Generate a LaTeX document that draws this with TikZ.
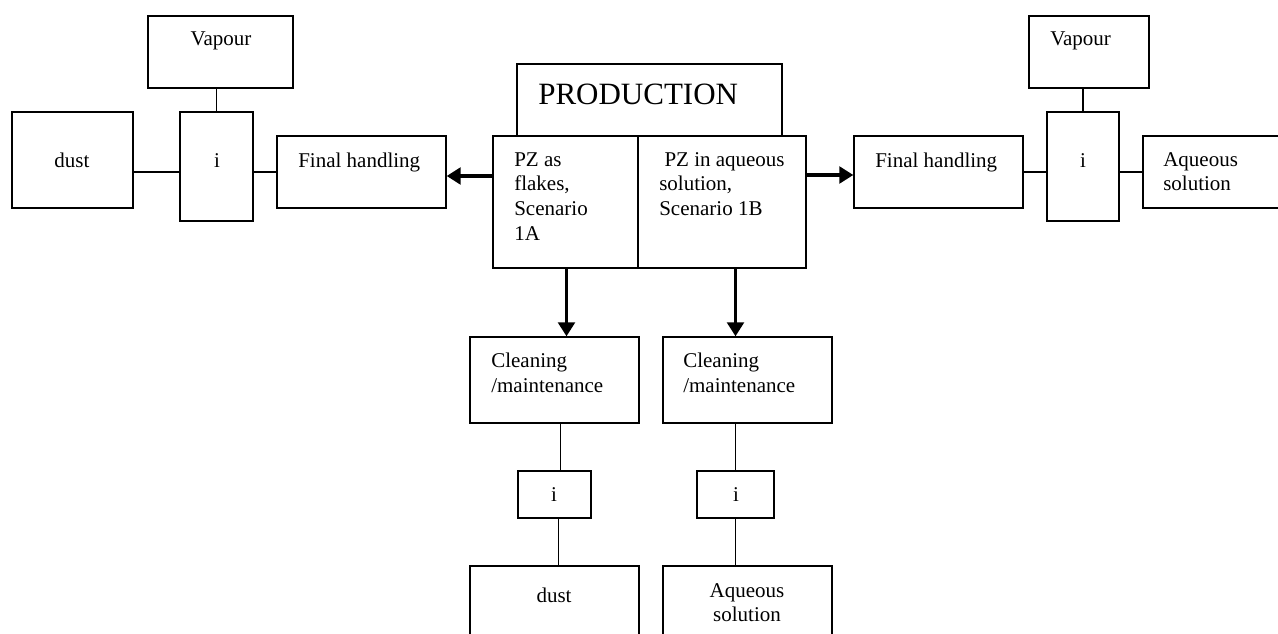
\documentclass[tikz,border=0pt]{standalone}
\usepackage{fontspec}
\setmainfont{Liberation Serif}
\usetikzlibrary{arrows.meta,calc,fit}

\begin{document}
\begin{tikzpicture}[x=0.75pt,y=0.75pt,yscale=-1,xscale=1,
  box/.style={draw,line width=1pt,inner sep=0pt},
  txt/.style={inner sep=0pt,font=\fontsize{15.75}{18.5}\selectfont},
  link/.style={line width=1pt},
  flow/.style={line width=2.5pt,-{Triangle[width=12.5pt,length=10.5pt]}}]
\useasboundingbox (0,0) rectangle (1278,634);

%Shapes: left branch
\node [box,fit={(148,16) (293,88)}] (vapL) {};
\node [box,fit={(12,112) (133,208)}] (dustL) {};
\node [box,fit={(180,112) (253,221)}] (iL) {};
\node [box,fit={(277,136) (446,208)}] (finL) {};
%Shapes: production
\node [box,fit={(517,64) (782,136)}] (prod) {};
\node [box,fit={(493,136) (638,268)}] (pzA) {};
\node [box,fit={(638,136) (806,268)}] (pzB) {};
%Shapes: right branch
\node [box,fit={(854,136) (1023,208)}] (finR) {};
\node [box,fit={(1029,16) (1149,88)}] (vapR) {};
\node [box,fit={(1047,112) (1119,221)}] (iR) {};
\node [box,fit={(1143,136) (1290,208)}] (aqR) {};
%Shapes: cleaning branch
\node [box,fit={(470,337) (639,423)}] (clL) {};
\node [box,fit={(663,337) (832,423)}] (clR) {};
\node [box,fit={(518,471) (591,518)}] (iBL) {};
\node [box,fit={(697,471) (774,518)}] (iBR) {};
\node [box,fit={(470,566) (639,650)}] (dustB) {};
\node [box,fit={(663,566) (832,650)}] (aqB) {};

% Text Node
\node [txt,anchor=base] (tVapL) at (221,46) {Vapour};
\node [txt,anchor=base] (tDustL) at (72,168) {dust};
\node [txt,anchor=base] (tIL) at (217,168) {i};
\node [txt,anchor=base west] (tFinL) at (298,168) {Final handling};
\node [inner sep=0pt,font=\fontsize{23.25}{28}\selectfont,anchor=base west] (tProd) at (538,105) {PRODUCTION};
\node [txt,anchor=north west,align=left] (tPzA) at (514,152) {PZ as\\flakes,\\Scenario\\1A};
\node [txt,anchor=north west,align=left] (tPzB) at (659,152) {~PZ in aqueous\\solution,\\Scenario 1B};
\node [txt,anchor=base west] (tFinR) at (875,168) {Final handling};
\node [txt,anchor=base west] (tVapR) at (1050,46) {Vapour};
\node [txt,anchor=base] (tIR) at (1083,168) {i};
\node [txt,anchor=north west,align=left] (tAqR) at (1163,152) {Aqueous\\solution};
\node [txt,anchor=north west,align=left] (tClL) at (491,353) {Cleaning\\/maintenance};
\node [txt,anchor=north west,align=left] (tClR) at (683,353) {Cleaning\\/maintenance};
\node [txt,anchor=base] (tIBL) at (554,501) {i};
\node [txt,anchor=base] (tIBR) at (736,501) {i};
\node [txt,anchor=base] (tDustB) at (554,602) {dust};
\node [txt,anchor=north,align=center] (tAqB) at (747,583) {Aqueous\\solution};

%Lines: left branch
\draw [link] (iL.north) -- (iL.north |- vapL.south);
\draw [link] (dustL.east |- finL.east) -- (iL.west |- finL.east);
\draw [link] (iL.east |- finL.east) -- (finL.west);
%Lines: right branch
\draw [link] (iR.north) -- (iR.north |- vapR.south);
\draw [link] (finR.east) -- (iR.west |- finR.east);
\draw [link] (iR.east |- aqR.west) -- (aqR.west);
%Lines: cleaning branch
\draw [link] ($(iBL.north |- clL.south)+(6,0)$) -- ($(iBL.north)+(6,0)$);
\draw [link] ($(iBL.south)+(4,0)$) -- ($(iBL.south |- dustB.north)+(4,0)$);
\draw [link] (iBR.north |- clR.south) -- (iBR.north);
\draw [link] (iBR.south) -- (iBR.south |- aqB.north);

%Arrows
\draw [flow] ($(pzA.west |- finL.east)+(0,4)$) -- ($(finL.east)+(0,4)$);
\draw [flow] ($(pzB.east |- finR.west)+(0,3)$) -- ($(finR.west)+(0,3)$);
\draw [flow] ($(pzA.south)+(1,0)$) -- ($(pzA.south |- clL.north)+(1,0)$);
\draw [flow] (iBR.north |- pzB.south) -- (iBR.north |- clR.north);

\end{tikzpicture}
\end{document}
